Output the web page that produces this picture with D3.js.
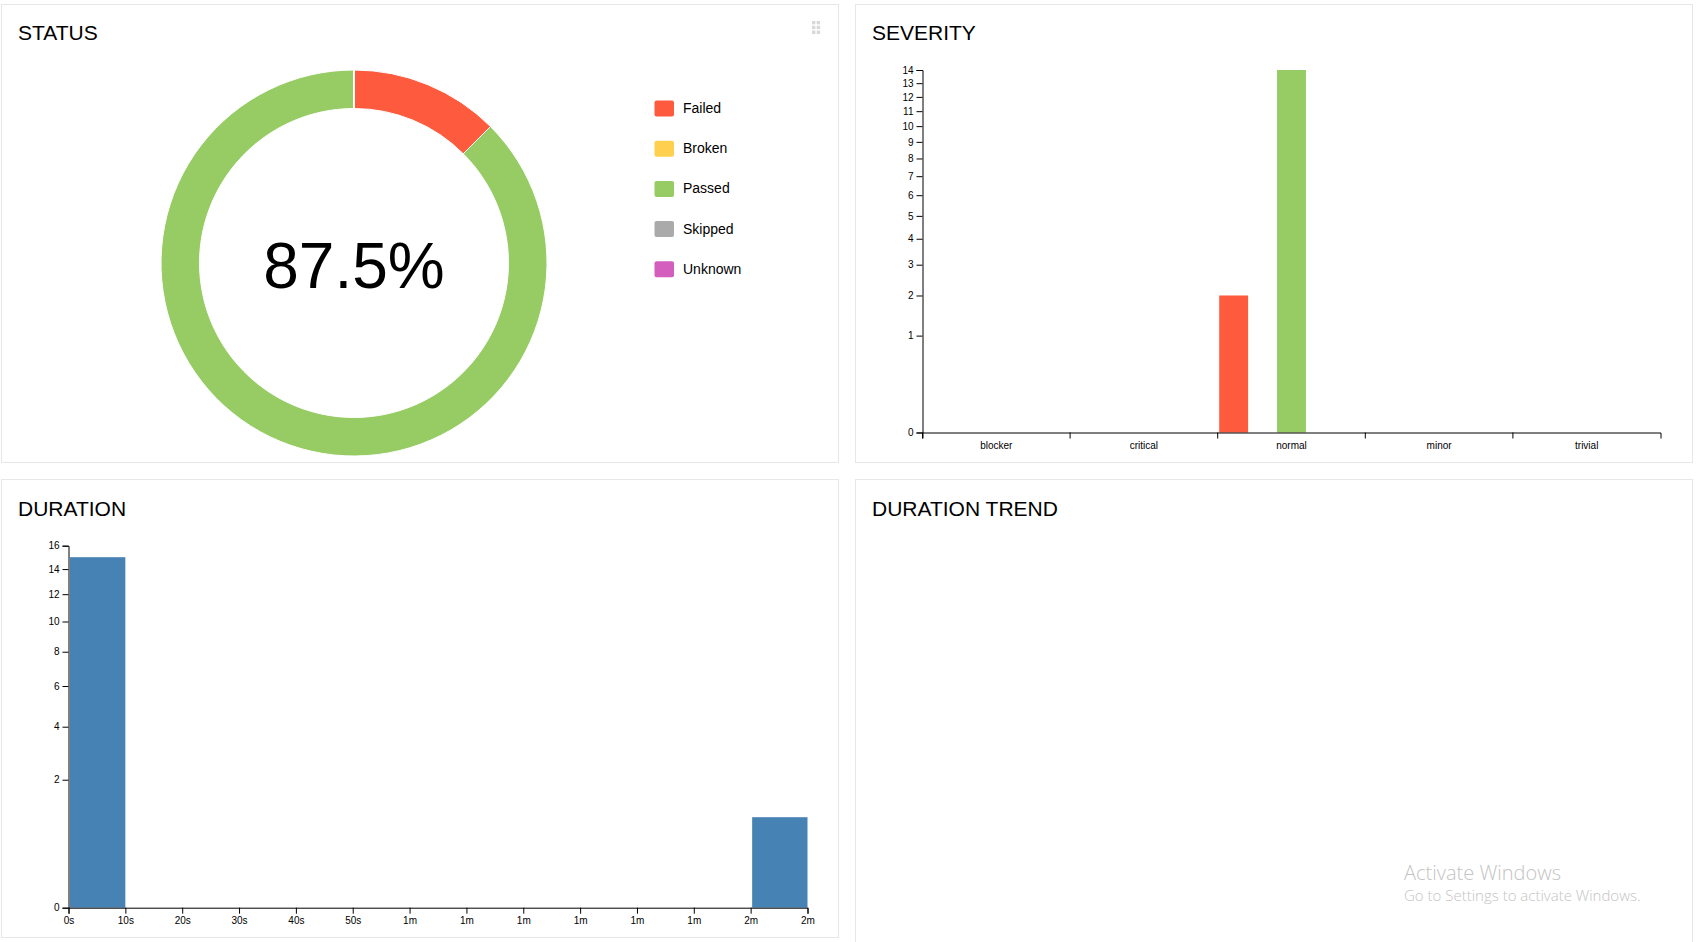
<!DOCTYPE html>
<html>
<head>
<meta charset="utf-8">
<script src="https://d3js.org/d3.v7.min.js"></script>
<style>
  html, body { margin: 0; padding: 0; background: #fff; overflow: hidden; }
  svg { display: block; font-family: "Liberation Sans", Arial, sans-serif; }
  .card { fill: #fff; stroke: #e7e7e7; stroke-width: 1; }
  .title { font-size: 21px; fill: #000; }
  .axis text { font-size: 10px; fill: #000; font-family: "Liberation Sans", Arial, sans-serif; }
</style>
</head>
<body>
<svg id="page" width="1702" height="942"></svg>
<script>
// status
const statuses = ["Failed", "Broken", "Passed", "Skipped", "Unknown"];
const statusCounts = [2, 0, 14, 0, 0];
const statusColors = ["#fd5a3e", "#ffd050", "#97cc64", "#aaaaaa", "#d35ebe"];
const passRate = "87.5%";

// severity
const severities = ["blocker", "critical", "normal", "minor", "trivial"];
const severityFailed = [0, 0, 2, 0, 0];
const severityPassed = [0, 0, 14, 0, 0];
const severityTicks = [0, 1, 2, 3, 4, 5, 6, 7, 8, 9, 10, 11, 12, 13, 14];

// duration
const durationStart = [0, 120];
const durationEnd = [10, 130];
const durationCounts = [15, 1];
const durationTicks = [0, 10, 20, 30, 40, 50, 60, 70, 80, 90, 100, 110, 120, 130];
const durationLabels = ["0s", "10s", "20s", "30s", "40s", "50s", "1m", "1m", "1m", "1m", "1m", "1m", "2m", "2m"];
const durationYTicks = [0, 2, 4, 6, 8, 10, 12, 14, 16];

const svg = d3.select("#page");

// card frames
const cards = [
  { x: 1.5, y: 4.5, w: 837, h: 458, title: "STATUS" },
  { x: 855.5, y: 4.5, w: 837, h: 458, title: "SEVERITY" },
  { x: 1.5, y: 479.5, w: 837, h: 458, title: "DURATION" },
  { x: 855.5, y: 479.5, w: 837, h: 480, title: "DURATION TREND" }
];
svg.selectAll("rect.card").data(cards).enter().append("rect")
  .attr("class", "card")
  .attr("x", d => d.x).attr("y", d => d.y)
  .attr("width", d => d.w).attr("height", d => d.h);
svg.selectAll("text.title").data(cards).enter().append("text")
  .attr("class", "title")
  .attr("x", d => d.x + 16.5)
  .attr("y", d => d.y + (d.y > 100 ? 36.5 : 35.5))
  .text(d => d.title);

// drag handle on first card
const handle = svg.append("g").attr("transform", "translate(812,21)").attr("fill", "#d8d8d8");
d3.range(3).forEach(r => d3.range(2).forEach(c => {
  handle.append("rect").attr("x", c * 4.7).attr("y", r * 4.8).attr("width", 3.4).attr("height", 3.4);
}));

// donut
const pie = d3.pie().sort(null).value(d => d.count);
const arc = d3.arc().innerRadius(154.5).outerRadius(193);
const donut = svg.append("g").attr("transform", "translate(354,263)");
const statusData = statuses.map((s, i) => ({ name: s, count: statusCounts[i], color: statusColors[i] }));
donut.selectAll("path").data(pie(statusData)).enter().append("path")
  .attr("d", arc)
  .attr("fill", d => d.data.color)
  .attr("stroke", "#fff")
  .attr("stroke-width", 1);
donut.append("text")
  .attr("text-anchor", "middle")
  .attr("y", 25)
  .style("font-size", "64px")
  .text(passRate);

// legend
const legend = svg.append("g").attr("transform", "translate(654.5,100.5)");
const row = legend.selectAll("g").data(statusData).enter().append("g")
  .attr("transform", (d, i) => "translate(0," + (i * 40.2) + ")");
row.append("rect")
  .attr("width", 19.5).attr("height", 16).attr("rx", 2)
  .attr("fill", d => d.color);
row.append("text")
  .attr("x", 28.5).attr("y", 12.5)
  .style("font-size", "14px")
  .text(d => d.name);

// severity chart
const sevX = d3.scaleBand().domain(severities).range([922.5, 1660.5]);
const sevInner = d3.scaleBand().domain(statuses).range([1.5, sevX.bandwidth() - 1.5]);
const sevY = d3.scaleSqrt().domain([0, 14]).range([432.5, 70]);
const sevGroup = svg.append("g");
const sevBars = [
  { status: "Failed", values: severityFailed, color: statusColors[0] },
  { status: "Passed", values: severityPassed, color: statusColors[2] }
];
sevBars.forEach(s => {
  sevGroup.selectAll("rect." + s.status).data(severities).enter().append("rect")
    .attr("class", s.status)
    .attr("x", d => sevX(d) + sevInner(s.status))
    .attr("y", (d, i) => sevY(s.values[i]))
    .attr("width", sevInner.bandwidth())
    .attr("height", (d, i) => sevY(0) - sevY(s.values[i]))
    .attr("fill", s.color);
});
svg.append("g").attr("class", "axis")
  .attr("transform", "translate(922.5,0)")
  .call(d3.axisLeft(sevY).tickValues(severityTicks).tickFormat(d3.format("d")));
const sevAxis = svg.append("g").attr("class", "axis")
  .attr("transform", "translate(0,432.5)")
  .call(d3.axisBottom(sevX));
// ticks sit on the band edges, labels stay centred
sevAxis.selectAll(".tick line")
  .attr("x1", -sevX.bandwidth() / 2)
  .attr("x2", -sevX.bandwidth() / 2);

// duration chart
const durX = d3.scaleLinear().domain([0, 130]).range([68.5, 807.5]);
const durY = d3.scaleSqrt().domain([0, 16]).range([907.7, 545.7]);
svg.append("g").selectAll("rect").data(durationCounts).enter().append("rect")
  .attr("x", (d, i) => durX(durationStart[i]) + 1.5)
  .attr("y", d => durY(d))
  .attr("width", (d, i) => durX(durationEnd[i]) - durX(durationStart[i]) - 1.5)
  .attr("height", d => durY(0) - durY(d))
  .attr("fill", "steelblue");
svg.append("g").attr("class", "axis")
  .attr("transform", "translate(68.5,0)")
  .call(d3.axisLeft(durY).tickValues(durationYTicks).tickFormat(d3.format("d")));
svg.append("g").attr("class", "axis")
  .attr("transform", "translate(0,907.7)")
  .call(d3.axisBottom(durX).tickValues(durationTicks).tickFormat((d, i) => durationLabels[i]));

// os watermark sitting over the page in the screenshot
svg.append("text")
  .attr("x", 1404).attr("y", 880)
  .style("font-family", "'Open Sans', sans-serif")
  .style("font-size", "20px")
  .style("font-weight", 300)
  .attr("fill", "#c4c4c4")
  .text("Activate Windows");
svg.append("text")
  .attr("x", 1404).attr("y", 901)
  .style("font-family", "'Open Sans', sans-serif")
  .style("font-size", "15px")
  .style("font-weight", 300)
  .attr("fill", "#c4c4c4")
  .text("Go to Settings to activate Windows.");
</script>
</body>
</html>
